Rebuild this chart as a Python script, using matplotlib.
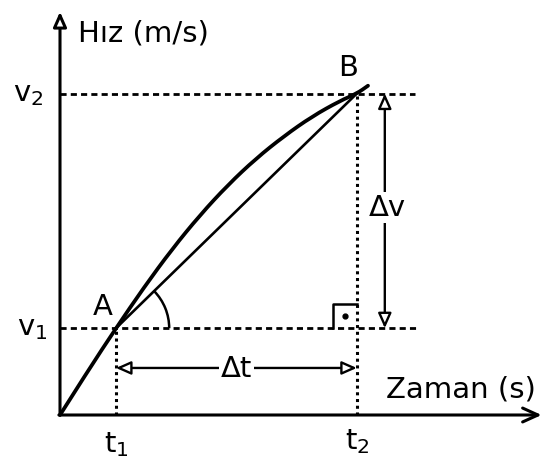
import numpy as np
import matplotlib
matplotlib.use("Agg")
import matplotlib.pyplot as plt
from matplotlib.patches import FancyArrowPatch, Arc, PathPatch
from matplotlib.path import Path

# curve v(t) (arbitrary units, 1 unit ~ 56 px)
t_curve = [0, 0.5, 1.0, 1.5, 2.0, 2.5, 3.0, 3.5, 4.0, 4.5, 5.0, 5.3, 5.5]
v_curve = [0, 0.79, 1.55, 2.28, 2.96, 3.57, 4.11, 4.58, 4.98, 5.33, 5.61, 5.74, 5.88]

# points A and B
t1, v1 = 1.0, 1.55
t2, v2 = 5.3, 5.74

# axis labels
x_label = "Zaman (s)"
y_label = "Hız (m/s)"

fig = plt.figure(figsize=(5.43, 4.65), dpi=100)
ax = fig.add_axes([0, 0, 1, 1])
ax.set_xlim(-60 / 56, 483 / 56)
ax.set_ylim(-50 / 56, 415 / 56)
ax.set_aspect("equal")
ax.axis("off")

fs = 21
lw_axis = 2.2

# axes with arrows
ax.add_patch(FancyArrowPatch((0, 0), (0, 7.2), arrowstyle="-|>,head_length=0.45,head_width=0.2",
                             mutation_scale=20, lw=lw_axis, ec="black", fc="white",
                             shrinkA=0, shrinkB=0))
ax.add_patch(FancyArrowPatch((-0.02, 0), (8.6, 0), arrowstyle="->,head_length=0.55,head_width=0.25",
                             mutation_scale=20, lw=lw_axis, color="black",
                             shrinkA=0, shrinkB=0))

# guide lines
ax.plot([0, 6.34], [v2, v2], color="black", lw=2, ls=(0, (2.2, 1.5)))
ax.plot([0, 6.39], [v1, v1], color="black", lw=2, ls=(0, (2.2, 1.5)))
ax.plot([t1, t1], [0, v1], color="black", lw=2.2, ls=(0, (1, 1.2)))
ax.plot([t2, t2], [0, v2], color="black", lw=2.2, ls=(0, (1, 1.2)))

# smooth curve: read points used as quadratic bezier controls
pts = list(zip(t_curve, v_curve))
verts = [pts[0]]
codes = [Path.MOVETO]
for i in range(1, len(pts) - 1):
    mid = ((pts[i][0] + pts[i + 1][0]) / 2, (pts[i][1] + pts[i + 1][1]) / 2)
    verts += [pts[i], mid]
    codes += [Path.CURVE3, Path.CURVE3]
verts.append(pts[-1])
codes.append(Path.LINETO)
ax.add_patch(PathPatch(Path(verts, codes), fc="none", ec="black", lw=2.7, capstyle="round"))

# chord
ax.plot([t1, t2], [v1, v2], color="black", lw=1.9)

# angle arc at A
ang = np.degrees(np.arctan2(v2 - v1, t2 - t1))
ax.add_patch(Arc((t1, v1), 1.9, 1.9, theta1=0, theta2=ang, lw=1.8, color="black"))

# right angle mark
s = 0.43
ax.plot([t2 - s, t2 - s, t2], [v1, v1 + s, v1 + s], color="black", lw=1.8)
ax.plot([t2 - s / 2], [v1 + s / 2], "o", color="black", ms=3.5)

# delta arrows
head = "<|-|>,head_length=0.45,head_width=0.2"
ax.add_patch(FancyArrowPatch((t1, 0.84), (t2, 0.84), arrowstyle=head, mutation_scale=20,
                             lw=1.7, ec="black", fc="white", shrinkA=0, shrinkB=0))
ax.add_patch(FancyArrowPatch((5.8, v1), (5.8, v2), arrowstyle=head, mutation_scale=20,
                             lw=1.7, ec="black", fc="white", shrinkA=0, shrinkB=0))
ax.text((t1 + t2) / 2, 0.82, "Δt", fontsize=fs, ha="center", va="center",
        bbox=dict(fc="white", ec="none", pad=1))
ax.text(5.85, 3.7, "Δv", fontsize=fs, ha="center", va="center",
        bbox=dict(fc="white", ec="none", pad=1))

# labels
ax.text(0.32, 6.82, y_label, fontsize=fs, ha="left", va="center")
ax.text(7.16, 0.45, x_label, fontsize=fs, ha="center", va="center")
ax.text(-0.57, v2, "v$_2$", fontsize=fs, ha="center", va="center")
ax.text(-0.5, v1, "v$_1$", fontsize=fs, ha="center", va="center")
ax.text(t1, -0.52, "t$_1$", fontsize=fs, ha="center", va="center")
ax.text(t2, -0.48, "t$_2$", fontsize=fs, ha="center", va="center")
ax.text(0.77, 1.93, "A", fontsize=fs, ha="center", va="center")
ax.text(5.14, 6.2, "B", fontsize=fs, ha="center", va="center")

fig.savefig("out.png", dpi=100)
